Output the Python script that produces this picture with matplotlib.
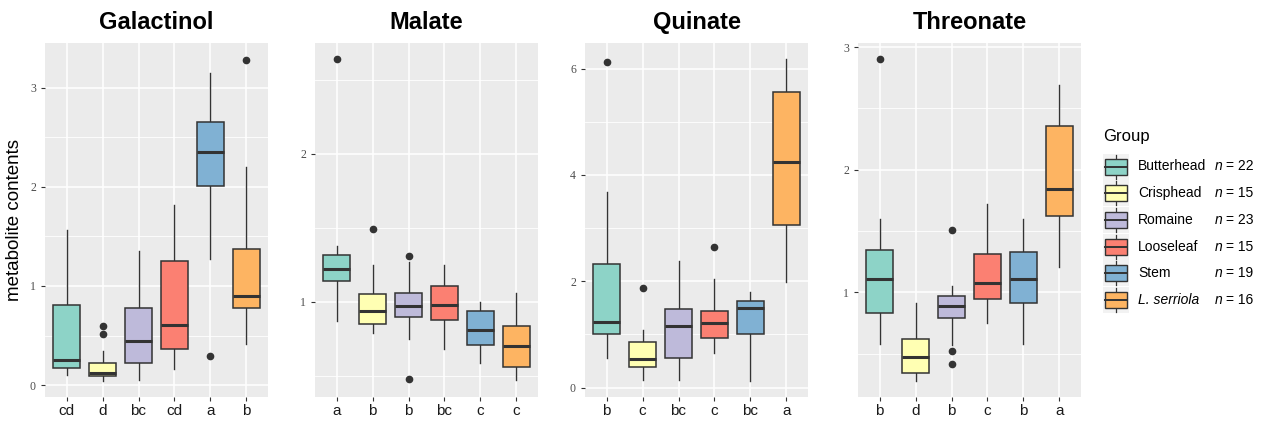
import numpy as np
import matplotlib
matplotlib.use("Agg")
import matplotlib.pyplot as plt
from matplotlib.patches import Rectangle

groups = ["Butterhead", "Crisphead", "Romaine", "Looseleaf", "Stem", "L. serriola"]
group_n = [22, 15, 23, 15, 19, 16]
colors = ["#8DD3C7", "#FFFFB3", "#BEBADA", "#FB8072", "#80B1D3", "#FDB462"]

titles = ["Galactinol", "Malate", "Quinate", "Threonate"]

# per group: whisker low, Q1, median, Q3, whisker high
galactinol_stats = [
    [0.10, 0.17, 0.25, 0.81, 1.56],
    [0.04, 0.09, 0.12, 0.22, 0.34],
    [0.05, 0.22, 0.44, 0.78, 1.35],
    [0.16, 0.36, 0.61, 1.25, 1.82],
    [1.27, 2.01, 2.35, 2.65, 3.15],
    [0.41, 0.78, 0.90, 1.37, 2.20],
]
galactinol_fliers = [[], [0.60, 0.52], [], [], [0.29], [3.28]]
galactinol_letters = ["cd", "d", "bc", "cd", "a", "b"]

malate_stats = [
    [0.87, 1.14, 1.22, 1.32, 1.38],
    [0.79, 0.85, 0.94, 1.05, 1.25],
    [0.75, 0.90, 0.97, 1.06, 1.27],
    [0.68, 0.88, 0.98, 1.11, 1.25],
    [0.59, 0.71, 0.81, 0.94, 1.00],
    [0.47, 0.56, 0.70, 0.84, 1.06],
]
malate_fliers = [[2.64], [1.49], [1.31, 0.48], [], [], []]
malate_letters = ["a", "b", "b", "bc", "c", "c"]

quinate_stats = [
    [0.55, 1.00, 1.23, 2.32, 3.68],
    [0.15, 0.38, 0.53, 0.86, 1.08],
    [0.15, 0.55, 1.16, 1.48, 2.39],
    [0.66, 0.94, 1.22, 1.45, 2.05],
    [0.13, 1.00, 1.50, 1.63, 1.79],
    [1.99, 3.05, 4.25, 5.56, 6.17],
]
quinate_fliers = [[6.12], [1.88], [], [2.64], [], []]
quinate_letters = ["b", "c", "bc", "c", "bc", "a"]

threonate_stats = [
    [0.58, 0.83, 1.11, 1.35, 1.60],
    [0.28, 0.34, 0.47, 0.62, 0.91],
    [0.57, 0.79, 0.89, 0.97, 1.05],
    [0.75, 0.95, 1.08, 1.31, 1.72],
    [0.58, 0.91, 1.11, 1.33, 1.60],
    [1.21, 1.62, 1.84, 2.36, 2.69],
]
threonate_fliers = [[2.90], [], [1.51, 0.52, 0.42], [], [], []]
threonate_letters = ["b", "d", "b", "c", "b", "a"]

all_stats = [galactinol_stats, malate_stats, quinate_stats, threonate_stats]
all_fliers = [galactinol_fliers, malate_fliers, quinate_fliers, threonate_fliers]
all_letters = [galactinol_letters, malate_letters, quinate_letters, threonate_letters]
ylims = [(-0.12, 3.45), (0.357, 2.75), (-0.176, 6.48), (0.148, 3.033)]
yticks = [[0, 1, 2, 3], [1, 2], [0, 2, 4, 6], [1, 2, 3]]
yminor = [[0.5, 1.5, 2.5], [0.5, 1.5, 2.5], [1, 3, 5], [0.5, 1.5, 2.5]]

plt.rcParams["font.family"] = ["Liberation Sans", "DejaVu Sans"]

fig = plt.figure(figsize=(12.63, 4.21), dpi=100)
W, H = 1263.0, 421.0
lefts = [45, 315, 585, 858]
ax_w = 223
ax_top, ax_bot = 43, 397

edge = "#333333"
for i in range(4):
    ax = fig.add_axes([lefts[i] / W, 1 - ax_bot / H, ax_w / W, (ax_bot - ax_top) / H])
    ax.set_facecolor("#EBEBEB")
    for s in ax.spines.values():
        s.set_visible(False)
    stats = []
    for j in range(6):
        lo, q1, med, q3, hi = all_stats[i][j]
        stats.append(dict(whislo=lo, q1=q1, med=med, q3=q3, whishi=hi,
                          fliers=all_fliers[i][j], label=all_letters[i][j]))
    bp = ax.bxp(stats, positions=np.arange(1, 7), widths=0.75, patch_artist=True,
                showcaps=False,
                boxprops=dict(edgecolor=edge, linewidth=1.1),
                whiskerprops=dict(color=edge, linewidth=1.0),
                medianprops=dict(color=edge, linewidth=2.2),
                flierprops=dict(marker="o", markerfacecolor=edge, markeredgecolor=edge,
                                markersize=4.5))
    for patch, c in zip(bp["boxes"], colors):
        patch.set_facecolor(c)
        patch.set_zorder(3)
    for m in bp["medians"]:
        m.set_zorder(4)
    ax.set_xlim(0.4, 6.6)
    ax.set_ylim(*ylims[i])
    ax.set_yticks(yticks[i])
    ax.set_yticks(yminor[i], minor=True)
    ax.grid(True, which="major", color="white", linewidth=1.1, zorder=0)
    ax.grid(True, which="minor", axis="y", color="white", linewidth=0.6, zorder=0)
    ax.set_axisbelow(True)
    ax.tick_params(axis="both", which="major", length=3, color="#333333", width=0.8)
    ax.tick_params(axis="y", which="minor", length=0)
    ax.tick_params(axis="x", labelsize=11, labelcolor="#1A1A1A", pad=2)
    for lab in ax.get_yticklabels():
        lab.set_fontfamily("Liberation Serif")
        lab.set_fontsize(8.5)
        lab.set_color("#4D4D4D")
    ax.set_xticklabels(all_letters[i])
    ax.set_title(titles[i], fontsize=17, fontweight="bold", pad=10)
    if i == 0:
        ax.set_ylabel("metabolite contents", fontsize=13.5, labelpad=5)

# legend drawn in its own axes, in pixel coordinates
lax = fig.add_axes([0, 0, 1, 1], facecolor="none")
lax.set_xlim(0, W)
lax.set_ylim(H, 0)
lax.axis("off")
lax.text(1103, 137, "Group", fontsize=12, va="center", ha="left")
row0, dy = 166.5, 26.7
for k in range(6):
    yc = row0 + k * dy
    lax.add_patch(Rectangle((1103, yc - 13), 26, 26, facecolor="#F2F2F2", edgecolor="none"))
    lax.plot([1116, 1116], [yc - 12, yc + 12], color=edge, linewidth=0.9)
    lax.add_patch(Rectangle((1105, yc - 8), 22, 16, facecolor=colors[k], edgecolor=edge,
                            linewidth=1.0, zorder=3))
    lax.plot([1105, 1127], [yc, yc], color=edge, linewidth=1.4, zorder=4)
    style = "italic" if groups[k].startswith("L.") else "normal"
    lax.text(1138, yc, groups[k], fontsize=10, va="center", ha="left", style=style)
    lax.text(1215, yc, "n", fontsize=10, va="center", ha="left", style="italic")
    lax.text(1226, yc, "= %d" % group_n[k], fontsize=10, va="center", ha="left")

fig.savefig("out.png", dpi=100)
